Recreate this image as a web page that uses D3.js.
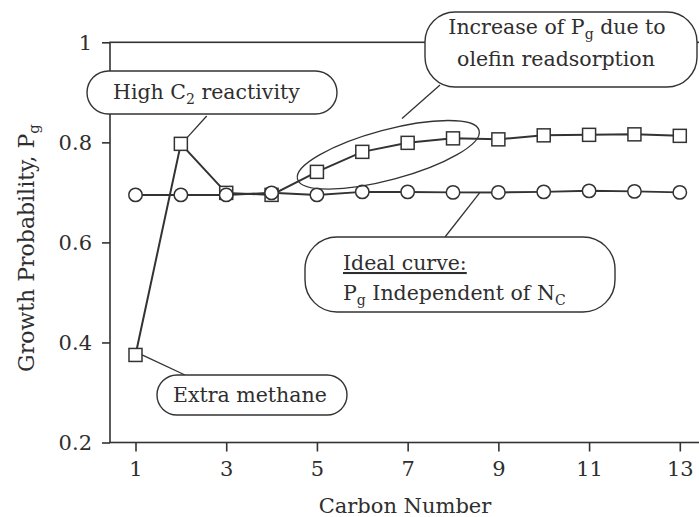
<!DOCTYPE html>
<html><head><meta charset="utf-8">
<script src="https://cdn.jsdelivr.net/npm/d3@7"></script>
<style>
html,body{margin:0;padding:0;background:#fff;}
svg text{font-family:"DejaVu Serif",serif;fill:#2e2e2e;}
</style></head>
<body><svg id="chart" width="699" height="517"></svg>
<script>
const carbonNumbers = [1,2,3,4,5,6,7,8,9,10,11,12,13];
const pgObserved = [0.375,0.797,0.699,0.695,0.741,0.781,0.799,0.808,0.806,0.814,0.815,0.816,0.813];
const pgIdeal    = [0.695,0.695,0.695,0.699,0.695,0.701,0.701,0.700,0.700,0.701,0.703,0.702,0.700];
const xTickValues = [1,3,5,7,9,11,13];
const yTickValues = [0.2,0.4,0.6,0.8,1];
const yTickLabels = ["0.2","0.4","0.6","0.8","1"];

const svg = d3.select("#chart");
const ink = "#333";
const x = d3.scaleLinear().domain([1,13]).range([135.5,679.8]);
const y = d3.scaleLinear().domain([0.2,1]).range([442.5,42.3]);
const left = 110, right = 740;

// frame
svg.append("rect").attr("x",left).attr("y",y(1)).attr("width",right-left).attr("height",y(0.2)-y(1))
  .attr("fill","none").attr("stroke",ink).attr("stroke-width",1.6);

const fs = 21;
const yAxis = d3.axisLeft(y).tickValues(yTickValues).tickSize(8).tickPadding(10)
  .tickFormat((d,i)=>yTickLabels[i]);
const gy = svg.append("g").attr("transform",`translate(${left},0)`).call(yAxis);
const xAxis = d3.axisBottom(x).tickValues(xTickValues).tickSize(9).tickPadding(10).tickFormat(d3.format("d"));
const gx = svg.append("g").attr("transform",`translate(0,${y(0.2)})`).call(xAxis);
[gx,gy].forEach(g=>{
  g.select(".domain").remove();
  g.selectAll("line").attr("stroke",ink).attr("stroke-width",1.6);
  g.selectAll("text").attr("font-size",fs).attr("fill","#2e2e2e").style("font-family","DejaVu Serif");
});

// axis titles
svg.append("text").attr("x",405).attr("y",513).attr("text-anchor","middle").attr("font-size",fs).text("Carbon Number");
const yt = svg.append("text").attr("transform","translate(34,248) rotate(-90)").attr("text-anchor","middle").attr("font-size",22);
yt.append("tspan").text("Growth Probability, P");
yt.append("tspan").attr("font-size",15).attr("dy",5).text("g");

const pts = carbonNumbers.map((c,i)=>({c, obs:pgObserved[i], ideal:pgIdeal[i]}));
const lineObs = d3.line().x(d=>x(d.c)).y(d=>y(d.obs));
const lineIdeal = d3.line().x(d=>x(d.c)).y(d=>y(d.ideal));
svg.append("path").datum(pts).attr("d",lineIdeal).attr("fill","none").attr("stroke",ink).attr("stroke-width",2);
svg.append("path").datum(pts).attr("d",lineObs).attr("fill","none").attr("stroke",ink).attr("stroke-width",2);

const r = 6.7, s = 13;
svg.selectAll("rect.obs").data(pts).join("rect").attr("class","obs")
  .attr("x",d=>x(d.c)-s/2).attr("y",d=>y(d.obs)-s/2).attr("width",s).attr("height",s)
  .attr("fill","#fff").attr("stroke",ink).attr("stroke-width",1.5);
svg.selectAll("circle.ideal").data(pts).join("circle").attr("class","ideal")
  .attr("cx",d=>x(d.c)).attr("cy",d=>y(d.ideal)).attr("r",r)
  .attr("fill","#fff").attr("stroke",ink).attr("stroke-width",1.5);

// ellipse around C5-C8
svg.append("ellipse").attr("cx",388.3).attr("cy",154.8).attr("rx",94).attr("ry",25)
  .attr("transform","rotate(-15,388.3,154.8)").attr("fill","none").attr("stroke",ink).attr("stroke-width",1.3);

// leaders
const leaders = [
  [206.7,116, x(2)+s/2, y(pgObserved[1])-s/2],
  [185,375, x(1)+s/2, y(pgObserved[0])],
  [440,85, 402,118.5],
  [445,237, 480, y(0.7)]
];
leaders.forEach(l=>svg.append("line").attr("x1",l[0]).attr("y1",l[1]).attr("x2",l[2]).attr("y2",l[3])
  .attr("stroke",ink).attr("stroke-width",1.3));

// boxes
function box(x0,y0,w,h,rad){
  svg.append("rect").attr("x",x0).attr("y",y0).attr("width",w).attr("height",h).attr("rx",rad).attr("ry",rad)
    .attr("fill","#fff").attr("stroke",ink).attr("stroke-width",1.4);
}
box(87,71,250,43,21.5);
box(157,375,190,40,20);
box(425,12,272,75,30);
box(305,237,310,75,32);

const fa = 20.5;
let t = svg.append("text").attr("x",113).attr("y",99).attr("font-size",fa);
t.append("tspan").text("High C");
t.append("tspan").attr("font-size",14).attr("dy",5).text("2");
t.append("tspan").attr("dy",-5).text(" reactivity");

svg.append("text").attr("x",173).attr("y",402).attr("font-size",fa).text("Extra methane");

t = svg.append("text").attr("x",557).attr("y",34).attr("text-anchor","middle").attr("font-size",fa);
t.append("tspan").text("Increase of P");
t.append("tspan").attr("font-size",14).attr("dy",5).text("g");
t.append("tspan").attr("dy",-5).text(" due to");
svg.append("text").attr("x",556).attr("y",66).attr("text-anchor","middle").attr("font-size",fa).text("olefin readsorption");

svg.append("text").attr("x",343).attr("y",270).attr("font-size",fa).attr("text-decoration","underline").text("Ideal curve:");
t = svg.append("text").attr("x",343).attr("y",300).attr("font-size",fa);
t.append("tspan").text("P");
t.append("tspan").attr("font-size",14).attr("dy",5).text("g");
t.append("tspan").attr("dy",-5).text(" Independent of N");
t.append("tspan").attr("font-size",14).attr("dy",5).text("C");
</script></body></html>
